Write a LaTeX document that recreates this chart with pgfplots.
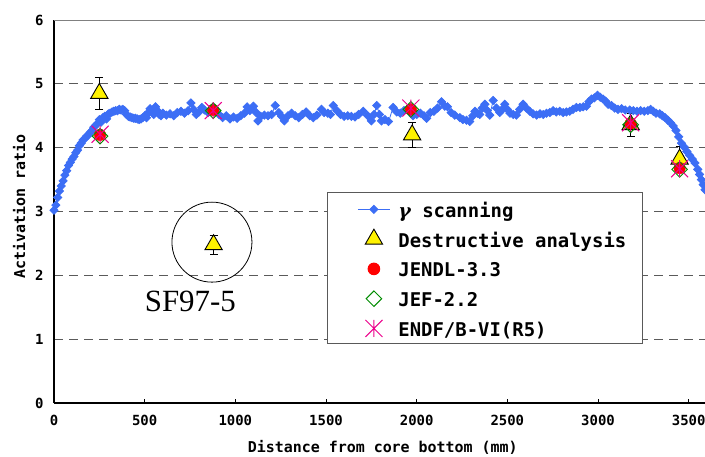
\documentclass[border=0pt]{standalone}
\usepackage{pgfplots}
\pgfplotsset{compat=1.18}
\usepackage{pgfplotstable}
\usepackage{fontspec}
\setmainfont{Liberation Serif}
\newfontfamily\gothic{DejaVu Sans Mono}
\newfontfamily\gsym{DejaVu Serif}
\usetikzlibrary{plotmarks}

\definecolor{scanblue}{RGB}{60,110,245}
\definecolor{jefgreen}{RGB}{0,140,0}
\definecolor{gridgray}{RGB}{90,90,90}

\pgfdeclareplotmark{xstar}{%
  \pgfpathmoveto{\pgfqpoint{-\pgfplotmarksize}{-\pgfplotmarksize}}%
  \pgfpathlineto{\pgfqpoint{\pgfplotmarksize}{\pgfplotmarksize}}%
  \pgfpathmoveto{\pgfqpoint{-\pgfplotmarksize}{\pgfplotmarksize}}%
  \pgfpathlineto{\pgfqpoint{\pgfplotmarksize}{-\pgfplotmarksize}}%
  \pgfpathmoveto{\pgfqpoint{0pt}{-\pgfplotmarksize}}%
  \pgfpathlineto{\pgfqpoint{0pt}{\pgfplotmarksize}}%
  \pgfusepathqstroke}

\pgfplotstableread{
x y
0 3.02
10 3.10
20 3.22
30 3.32
40 3.40
50 3.48
60 3.57
70 3.64
80 3.72
90 3.77
100 3.82
110 3.86
120 3.92
130 3.96
140 4.03
150 4.07
160 4.12
170 4.14
180 4.18
190 4.20
200 4.24
210 4.27
220 4.32
230 4.35
240 4.38
250 4.44
260 4.40
270 4.47
280 4.49
290 4.45
300 4.53
310 4.54
320 4.56
330 4.57
340 4.58
350 4.58
360 4.60
370 4.59
380 4.60
390 4.58
400 4.52
410 4.49
420 4.48
430 4.47
440 4.46
450 4.46
460 4.45
470 4.44
480 4.45
490 4.47
500 4.50
510 4.47
520 4.55
530 4.61
540 4.56
550 4.52
560 4.64
570 4.58
580 4.52
590 4.50
600 4.54
620 4.51
640 4.53
660 4.50
680 4.55
700 4.57
720 4.54
740 4.58
755 4.70
770 4.60
785 4.52
800 4.56
815 4.63
830 4.59
850 4.55
870 4.58
890 4.60
910 4.52
930 4.47
950 4.50
970 4.45
990 4.48
1010 4.46
1030 4.50
1050 4.54
1065 4.64
1080 4.58
1100 4.65
1115 4.55
1125 4.42
1140 4.49
1160 4.51
1180 4.50
1200 4.52
1220 4.66
1240 4.55
1255 4.49
1270 4.42
1290 4.50
1310 4.54
1330 4.50
1350 4.47
1370 4.52
1390 4.56
1410 4.50
1430 4.47
1450 4.51
1475 4.60
1490 4.55
1510 4.54
1525 4.52
1540 4.66
1560 4.58
1580 4.52
1600 4.49
1620 4.50
1640 4.49
1660 4.48
1680 4.52
1705 4.57
1730 4.50
1750 4.42
1765 4.52
1780 4.66
1795 4.52
1806 4.42
1825 4.44
1845 4.41
1870 4.63
1890 4.56
1910 4.54
1930 4.58
1950 4.60
1965 4.55
1980 4.50
2000 4.52
2020 4.54
2040 4.50
2055 4.46
2075 4.55
2095 4.57
2115 4.62
2137 4.72
2155 4.65
2170 4.64
2190 4.55
2210 4.51
2238 4.47
2255 4.44
2275 4.43
2293 4.41
2310 4.50
2321 4.57
2335 4.54
2348 4.52
2362 4.62
2376 4.68
2390 4.58
2403 4.51
2422 4.74
2440 4.62
2458 4.55
2472 4.60
2486 4.68
2500 4.60
2514 4.54
2532 4.52
2550 4.51
2568 4.60
2587 4.68
2605 4.62
2624 4.57
2642 4.53
2661 4.51
2680 4.53
2698 4.52
2716 4.54
2734 4.55
2752 4.58
2770 4.56
2789 4.57
2808 4.55
2826 4.56
2844 4.57
2862 4.60
2881 4.63
2900 4.63
2918 4.64
2936 4.65
2950 4.72
2964 4.76
2980 4.78
2997 4.82
3012 4.79
3028 4.76
3042 4.73
3056 4.68
3074 4.66
3092 4.62
3110 4.60
3130 4.61
3150 4.59
3175 4.59
3195 4.58
3215 4.57
3235 4.58
3255 4.57
3275 4.58
3290 4.60
3305 4.57
3320 4.54
3340 4.53
3355 4.50
3370 4.47
3385 4.43
3400 4.39
3415 4.34
3430 4.27
3445 4.17
3460 4.07
3475 4.01
3490 3.94
3505 3.88
3520 3.82
3535 3.76
3550 3.66
3560 3.58
3570 3.50
3580 3.42
3590 3.34
}\scan

\pgfplotstableread{
x y e
250 4.85 0.25
880 2.48 0.15
1975 4.20 0.20
3180 4.36 0.18
3450 3.82 0.20
}\destr

\pgfplotstableread{
x y
254 4.20
878 4.59
1968 4.60
3180 4.38
3450 3.68
}\jendl

\pgfplotstableread{
x y
254 4.18
878 4.58
1968 4.60
3180 4.36
3450 3.66
}\jef

\pgfplotstableread{
x y
254 4.21
878 4.58
1968 4.62
3180 4.39
3450 3.67
}\endf

\begin{document}
\begin{tikzpicture}
\begin{axis}[
  at={(0,0)}, anchor=south west,
  scale only axis, width=651bp, height=383bp,
  xmin=0, xmax=3590, ymin=0, ymax=6,
  axis x line=bottom, axis y line=left,
  axis line style={-, black, line width=1.2bp},
  xtick={0,500,...,3500}, ytick={0,1,...,6},
  tick align=inside, major tick length=4bp,
  xtick style={black, line width=1bp},
  ytick style={draw=none},
  ymajorgrids, grid style={gridgray, dash pattern=on 9bp off 6bp, line width=0.9bp},
  ticklabel style={font=\gothic\bfseries\fontsize{14}{14}\selectfont},
  /pgf/number format/assume math mode=true,
  /pgf/number format/1000 sep={},
  xticklabel style={yshift=-9bp},
  yticklabel style={xshift=-7bp},
  xlabel={Distance from core bottom (mm)},
  ylabel={Activation ratio},
  label style={font=\gothic\bfseries\fontsize{15}{15}\selectfont},
  xlabel style={at={(axis description cs:0.505,-0.1293)}, anchor=base},
  ylabel style={at={(axis description cs:-0.0445,0.514)}, anchor=base},
  clip=false,
  legend image code/.code={%
    \path (0bp,-1bp) (50bp,-1bp);
    \draw[mark repeat=2,mark phase=2,#1] plot coordinates {(16bp,-1bp)(32bp,-1bp)(48bp,-1bp)};},
  legend cell align=left,
  legend style={at={(axis cs:1505,3.307)}, anchor=north west,
    draw=gray!70!black, line width=1bp, fill=white,
    inner xsep=14bp, inner ysep=7bp, row sep=11.75bp,
    /tikz/every odd column/.append style={column sep=4bp},
    font=\gothic\bfseries\fontsize{19}{19}\selectfont,
    nodes={inner xsep=2bp, inner ysep=0bp, text height=18bp, text depth=0bp}},
]
\addplot[scanblue, line width=0.8bp, mark=square*, mark size=2.9bp,
  mark options={rotate=45, fill=scanblue, draw=scanblue}] table[x=x,y=y] {\scan};
\addlegendentry{{\gsym\bfseries\itshape γ}\ scanning}

\addplot[only marks, mark=triangle*, mark size=10bp,
  mark options={fill=yellow, draw=black, line width=0.9bp},
  error bars/.cd, y dir=both, y explicit,
  error bar style={black, line width=0.9bp},
  error mark options={rotate=90, black, mark size=4bp, line width=0.9bp}]
  table[x=x,y=y,y error=e] {\destr};
\addlegendentry{Destructive analysis}

\addplot[only marks, mark=*, mark size=5.8bp, mark options={fill=red, draw=red}]
  table[x=x,y=y] {\jendl};
\addlegendentry{JENDL-3.3}

\addplot[only marks, mark=square, mark size=5.5bp,
  mark options={rotate=45, draw=jefgreen, line width=1bp}]
  table[x=x,y=y] {\jef};
\addlegendentry{JEF-2.2}

\addplot[only marks, mark=xstar, mark size=8.5bp,
  mark options={draw=magenta, line width=1bp}]
  table[x=x,y=y] {\endf};
\addlegendentry{ENDF/B-VI(R5)}

\draw[gray, line width=1bp] (rel axis cs:0,1) -- (rel axis cs:1,1);
\draw[black, line width=0.8bp] (axis cs:871,2.52) circle[radius=40bp];
\node[anchor=base, font=\fontsize{31}{31}\selectfont, inner sep=0pt] at (axis cs:752,1.44) {SF97-5};
\end{axis}
\pgfresetboundingbox
\path[use as bounding box] (-54bp,-54bp) rectangle (651bp,403bp);
\end{tikzpicture}
\end{document}
